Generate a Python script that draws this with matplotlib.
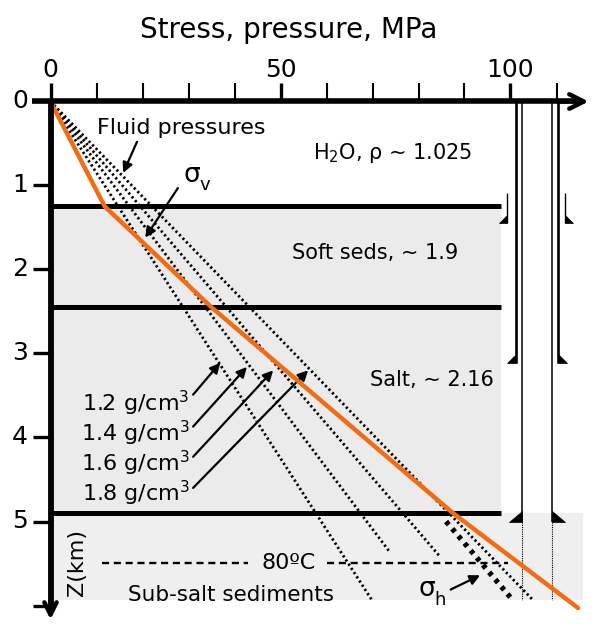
import matplotlib
matplotlib.use('Agg')
import matplotlib.pyplot as plt
from matplotlib.patches import Polygon, Rectangle

# ── Data ──────────────────────────────────────────────────────────────────────
X_TICKS = [0, 10, 20, 30, 40, 50, 60, 70, 80, 90, 100, 110]
X_TICK_LABELS = {0: '0', 50: '50', 100: '100'}
Z_TICKS = [0, 1, 2, 3, 4, 5, 6]
Z_TICK_LABELS = ['0', '1', '2', '3', '4', '5']

LAYER_TOPS = [1.25, 2.45, 4.9]          # km, black boundary lines
LAYER_BOTTOM = 5.93
LAYER_RIGHT = 98.0                       # MPa, end of boundary lines
SUBSALT_RIGHT = 115.8

# vertical stress (orange)
SV_DEPTH = [0, 1.25, 2.45, 4.9, 6.03]
SV_STRESS = [0, 11.8, 35.0, 87.5, 114.7]

# fluid pressure lines from the origin
FLUID_LABELS = ['1.2', '1.4', '1.6', '1.8']
FLUID_END_DEPTH = [5.93, 5.36, 5.42, 5.93]
FLUID_END_PRESSURE = [69.8, 73.7, 84.7, 104.8]

# minimum horizontal stress below salt
SH_DEPTH = [5.0, 5.93]
SH_STRESS = [86.0, 100.4]

# casing strings: (left x, right x, top z, bottom z, shoe width)
CONDUCTOR = (99.2, 111.8, 1.09, 1.45, 1.7)
OUTER_CASING = (101.2, 110.3, 0.0, 3.11, 2.0)
INNER_CASING = (102.5, 109.0, 0.0, 5.0, 2.8)
OPEN_HOLE_BOTTOM = 5.93

ORANGE = '#f36c13'
GREY = '#ebebeb'
GREY_SUB = '#efefef'

# pixel mapping: x = (px-50.5)/4.6, z = (py-101.5)/84
fig = plt.figure(figsize=(5.95, 6.24), dpi=100)
ax = fig.add_axes([0, 0, 1, 1])
ax.set_xlim(-50.5 / 4.6, (595 - 50.5) / 4.6)
ax.set_ylim((624 - 101.5) / 84, -101.5 / 84)
ax.axis('off')

# ── Layer shading ─────────────────────────────────────────────────────────────
ax.add_patch(Rectangle((0, LAYER_TOPS[0]), LAYER_RIGHT, LAYER_TOPS[2] - LAYER_TOPS[0],
                       facecolor=GREY, edgecolor='none', zorder=0))
ax.add_patch(Rectangle((0, LAYER_TOPS[2]), SUBSALT_RIGHT, LAYER_BOTTOM - LAYER_TOPS[2],
                       facecolor=GREY_SUB, edgecolor='none', zorder=0))
for zt in LAYER_TOPS:
    ax.plot([0, LAYER_RIGHT], [zt, zt], color='black', lw=3.6,
            solid_capstyle='butt', zorder=3)

# ── Axes ──────────────────────────────────────────────────────────────────────
ax.plot([-4.0, 115.5], [0, 0], color='black', lw=4, solid_capstyle='butt', zorder=5)
ax.annotate('', xy=(117.6, 0), xytext=(110, 0),
            arrowprops=dict(arrowstyle='->', lw=3.2, mutation_scale=26,
                            color='black'), zorder=5)
ax.plot([0, 0], [0, 6.05], color='black', lw=4.2, solid_capstyle='butt', zorder=5)
ax.annotate('', xy=(0, 6.2), xytext=(0, 5.9),
            arrowprops=dict(arrowstyle='->', lw=3.2, mutation_scale=22,
                            color='black'), zorder=5)

for xt in X_TICKS:
    major = xt in X_TICK_LABELS
    ax.plot([xt, xt], [0, -0.22], color='black', lw=2.4 if major else 1.5,
            solid_capstyle='butt', zorder=5)
    if major:
        ax.text(xt, -0.37, X_TICK_LABELS[xt], ha='center', va='center',
                fontsize=18)
for zt in Z_TICKS:
    ax.plot([-3.8, 0], [zt, zt], color='black', lw=2.4, solid_capstyle='butt', zorder=5)
for zt, lab in zip(Z_TICKS, Z_TICK_LABELS):
    ax.text(-4.9, zt, lab, ha='right', va='center', fontsize=18)

ax.text(51.7, -0.85, 'Stress, pressure, MPa', ha='center', va='center', fontsize=20)
ax.text(5.8, 5.49, 'Z(km)', ha='center', va='center', rotation=90, fontsize=16)

# ── Fluid pressures, stresses ─────────────────────────────────────────────────
for zd, pe in zip(FLUID_END_DEPTH, FLUID_END_PRESSURE):
    ax.plot([0, pe], [0, zd], color='black', lw=2.0, linestyle=(0, (0.8, 1.0)),
            zorder=2)
ax.plot(SV_STRESS, SV_DEPTH, color=ORANGE, lw=3.2, solid_capstyle='round',
        solid_joinstyle='round', zorder=4)
ax.plot(SH_STRESS, SH_DEPTH, color='black', lw=3.8, linestyle=(0, (0.8, 1.0)),
        zorder=4)

# 80 C isotherm
ax.plot([11.3, 43.0], [5.49, 5.49], color='black', lw=1.7,
        linestyle=(0, (3, 2)), zorder=3)
ax.plot([60.2, 99.5], [5.49, 5.49], color='black', lw=1.7,
        linestyle=(0, (3, 2)), zorder=3)
ax.text(51.7, 5.49, '80ºC', ha='center', va='center', fontsize=16)

# ── Casing strings ────────────────────────────────────────────────────────────
def casing(spec, lw, shoe_h):
    xl, xr, z0, z1, w = spec
    for xc, sgn in ((xl, -1), (xr, 1)):
        ax.plot([xc, xc], [z0, z1], color='black', lw=lw, solid_capstyle='butt',
                zorder=3)
        ax.add_patch(Polygon([(xc, z1 - shoe_h), (xc, z1), (xc + sgn * w, z1)],
                             closed=True, facecolor='black', edgecolor='black',
                             lw=0.5, zorder=3))

casing(CONDUCTOR, 1.0, 0.1)
casing(OUTER_CASING, 1.9, 0.1)
casing(INNER_CASING, 1.1, 0.12)
for xc in INNER_CASING[:2]:
    ax.plot([xc, xc], [INNER_CASING[3], OPEN_HOLE_BOTTOM], color='black', lw=0.8,
            linestyle=(0, (1, 1)), zorder=3)

# ── Labels and arrows ─────────────────────────────────────────────────────────
arrow = dict(arrowstyle='-|>', lw=1.6, color='black', mutation_scale=15,
             shrinkA=0, shrinkB=0)

ax.text(10.1, 0.32, 'Fluid pressures', ha='left', va='center', fontsize=16)
ax.annotate('', xy=(15.8, 0.85), xytext=(18.8, 0.48), arrowprops=arrow)

ax.text(28.9, 0.88, 'σ', ha='left', va='center', fontsize=19)
ax.text(32.3, 1.0, 'v', ha='left', va='center', fontsize=13)
ax.annotate('', xy=(20.6, 1.62), xytext=(27.7, 1.03), arrowprops=arrow)

ax.text(57.1, 0.61, r'H$_2$O, ρ ~ 1.025', ha='left', va='center', fontsize=15)
ax.text(52.5, 1.80, 'Soft seds, ~ 1.9', ha='left', va='center', fontsize=15)
ax.text(69.5, 3.32, 'Salt, ~ 2.16', ha='left', va='center', fontsize=15)

label_z = [3.59, 3.95, 4.31, 4.66]
arrow_start = [(31.0, 3.49), (31.0, 3.87), (31.0, 4.23), (31.0, 4.60)]
arrow_tip = [(36.9, 3.11), (42.7, 3.16), (48.4, 3.20), (56.0, 3.20)]
for lab, zl, xy0, xy1 in zip(FLUID_LABELS, label_z, arrow_start, arrow_tip):
    ax.text(30.3, zl, lab + ' g/cm$^3$', ha='right', va='center', fontsize=16)
    ax.annotate('', xy=xy1, xytext=xy0, arrowprops=arrow)

ax.text(39.2, 5.875, 'Sub-salt sediments', ha='center', va='center', fontsize=15.5)
ax.text(80.0, 5.80, 'σ', ha='left', va='center', fontsize=19)
ax.text(83.4, 5.93, 'h', ha='left', va='center', fontsize=13)
ax.annotate('', xy=(93.4, 5.64), xytext=(87.0, 5.81), arrowprops=arrow)

fig.savefig('out.png', dpi=100)
